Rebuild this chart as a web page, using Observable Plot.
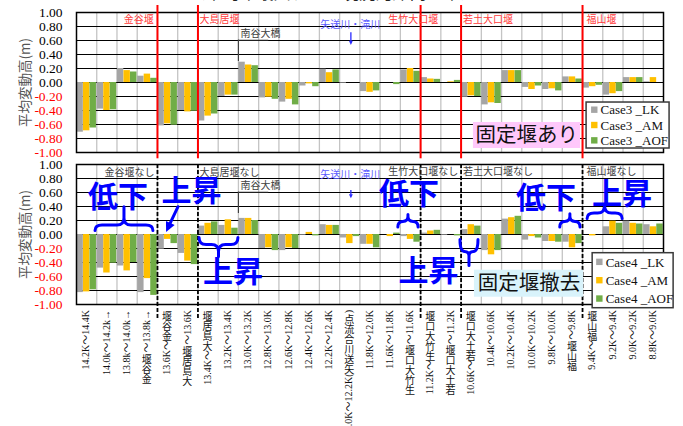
<!DOCTYPE html>
<html>
<head>
<meta charset="utf-8">
<script src="https://cdn.jsdelivr.net/npm/d3@7"></script>
<script src="https://cdn.jsdelivr.net/npm/@observablehq/plot@0.6"></script>
<style>
  body { margin: 0; background: #fff; }
  #chart { position: relative; width: 683px; height: 426px; overflow: hidden; }
  #chart svg { display: block; overflow: visible; }
</style>
</head>
<body>
<div id="chart"></div>
<script>
// Reaches, upstream to downstream
const categories = [
  "14.2K～14.4K", "14.0k～14.2k→", "13.8k～14.0k→", "金谷堰～13.8k→", "13.6K～金谷堰",
  "大島居堰～13.6K", "13.4K～大島居堰", "13.2K～13.4K", "13.0K～13.2K", "12.8K～13.0K",
  "12.6K～12.8K", "12.4K～12.6K", "12.2K～12.4K", "12.0K～12.2K(矢送川合流点)", "11.8K～12.0K",
  "11.6K～11.8K", "生竹大口堰～11.6K", "11.2K～生竹大口堰", "若土大口堰～11.2K", "10.6K～若土大口堰",
  "10.4k～10.6K", "10.2K～10.4K", "10.0K～10.2K", "9.8K～10.0K", "福山堰～9.8K",
  "9.4K～福山堰", "9.2K～9.4K", "9.0K～9.2K", "8.8K～9.0K"
];

// Case3: fixed weirs in place
const case3LK  = [-0.71, -0.38, 0.20, 0.09, -0.62, -0.40, -0.55, -0.20, 0.29, -0.22, -0.28, -0.05, 0.19, -0.01, -0.13, 0.00, 0.18, 0.07, 0.00, -0.21, -0.32, 0.17, -0.07, -0.10, 0.08, -0.08, -0.18, 0.07, 0.01];
const case3AM  = [-0.69, -0.40, 0.17, 0.12, -0.59, -0.42, -0.48, -0.18, 0.25, -0.21, -0.24, -0.02, 0.14, 0.00, -0.14, 0.00, 0.20, 0.05, 0.01, -0.19, -0.29, 0.17, -0.10, -0.09, 0.08, -0.06, -0.16, 0.07, 0.07];
const case3AOF = [-0.65, -0.39, 0.15, 0.06, -0.61, -0.41, -0.45, -0.18, 0.24, -0.24, -0.32, -0.06, 0.18, 0.00, -0.12, -0.03, 0.16, 0.045, 0.03, -0.20, -0.30, 0.17, -0.05, -0.12, 0.05, -0.04, -0.13, 0.07, 0.00];

// Case4: fixed weirs removed
const case4LK  = [-0.83, -0.48, -0.45, -0.83, -0.21, -0.27, 0.12, 0.13, 0.23, -0.20, -0.23, -0.01, 0.14, -0.05, -0.14, 0.00, -0.03, 0.02, -0.01, 0.07, -0.23, 0.22, -0.08, -0.10, -0.11, 0.00, 0.11, 0.19, 0.14];
const case4AM  = [-0.82, -0.55, -0.52, -0.63, -0.07, -0.38, 0.16, 0.21, 0.23, -0.19, -0.19, 0.03, 0.13, -0.13, -0.14, -0.03, -0.07, 0.05, 0.00, 0.14, -0.29, 0.24, -0.03, -0.10, -0.19, -0.02, 0.19, 0.16, 0.11];
const case4AOF = [-0.79, -0.41, -0.40, -0.87, -0.13, -0.43, 0.18, 0.09, 0.20, -0.23, -0.20, -0.02, 0.13, -0.03, -0.19, 0.02, -0.11, 0.06, -0.02, 0.12, -0.23, 0.26, -0.05, -0.11, -0.13, 0.00, 0.16, 0.15, 0.15];

const yTickValues = [1.0, 0.8, 0.6, 0.4, 0.2, 0.0, -0.2, -0.4, -0.6, -0.8, -1.0];
const weirs = ["金谷堰", "大島居堰", "生竹大口堰", "若土大口堰", "福山堰"];
const seriesSuffix = ["_LK", "_AM", "_AOF"];
const seriesColors = ["#a5a5a5", "#ffc000", "#70ad47"];
const yTitle = "平均変動高(m)";
const chartTitle = "（平均年最大流量・現況河床高基準）";

// each weir sits on the boundary after the reach that starts at it
const weirBounds = weirs.map(w => categories.findIndex(c => c.startsWith(w)) + 1);

const RED = "#ff3b3b";
const BLUE = "#0000ff";
const SERIF = "'Liberation Serif', 'Noto Sans CJK JP', serif";
const SANS = "'Noto Sans CJK JP', sans-serif";

function note(text, x, y, opts = {}) {
  return Plot.text([text], {x: () => x, y: () => y, text: d => d, fontSize: 10, ...opts});
}

function bars(series) {
  const w = 0.318;
  return series.map((vals, k) => Plot.rectY(vals, {
    x1: (d, i) => i + 0.02 + k * (w + 0.006),
    x2: (d, i) => i + 0.02 + k * (w + 0.006) + w,
    y1: () => 0,
    y2: d => d,
    fill: seriesColors[k]
  }));
}

function yAxes() {
  const common = {tickSize: 0, tickPadding: 14, tickFormat: d => d.toFixed(2), fontSize: 13.5, fontFamily: SERIF, label: null};
  return [
    Plot.axisY({...common, ticks: yTickValues.filter(v => v >= 0), color: "#000"}),
    Plot.axisY({...common, ticks: yTickValues.filter(v => v < 0), color: "#ff0000"}),
    Plot.text([yTitle], {frameAnchor: "left", textAnchor: "middle", dx: -51, rotate: -90, fontSize: 13.5, fill: "#555", fontFamily: SANS})
  ];
}

function legendMark(prefix, box) {
  return (index, {x, y}) => {
    const g = d3.create("svg:g").attr("text-anchor", "start");
    const x0 = x(box.x1), x1 = x(box.x2), y0 = y(box.y1), y1 = y(box.y2);
    g.append("rect").attr("x", x0).attr("y", y0).attr("width", x1 - x0).attr("height", y1 - y0)
      .attr("fill", "#fff").attr("stroke", "#3a3a3a").attr("stroke-width", 1.5);
    const rowH = (y1 - y0) / 3;
    seriesSuffix.forEach((s, k) => {
      const cy = y0 + rowH * (k + 0.5);
      g.append("rect").attr("x", x0 + box.pad).attr("y", cy - 3.2).attr("width", 6.4).attr("height", 6.4).attr("fill", seriesColors[k]);
      g.append("text").attr("x", x0 + box.pad + 9.5).attr("y", cy).attr("dy", "0.36em")
        .attr("font-family", SERIF).attr("font-size", 13).attr("fill", "#111").text(`${prefix} ${s}`);
    });
    return g.node();
  };
}

// brace: ends at yEnd, flat along yBase, middle point at yTip
function bracePath(x1, x2, yEnd, yBase, yTip) {
  const xm = (x1 + x2) / 2;
  const r = Math.min((x2 - x1) / 4, 7);
  const s = Math.sign(yTip - yBase);
  const stem = yBase + s * Math.min(r, Math.abs(yTip - yBase));
  return `M${x1},${yEnd}Q${x1},${yBase} ${x1 + r},${yBase}L${xm - r},${yBase}Q${xm},${yBase} ${xm},${stem}L${xm},${yTip}` +
         `M${xm},${stem}Q${xm},${yBase} ${xm + r},${yBase}L${x2 - r},${yBase}Q${x2},${yBase} ${x2},${yEnd}`;
}

function arrowShape(g, xa, ya, xb, yb, color, width, head) {
  const a = Math.atan2(yb - ya, xb - xa);
  const bx = xb - Math.cos(a) * head * 0.8, by = yb - Math.sin(a) * head * 0.8;
  g.append("line").attr("x1", xa).attr("y1", ya).attr("x2", bx).attr("y2", by)
    .attr("stroke", color).attr("stroke-width", width);
  const p = (ang, len) => [xb - Math.cos(a + ang) * len, yb - Math.sin(a + ang) * len];
  const [l, rr] = [p(0.45, head), p(-0.45, head)];
  g.append("path").attr("d", `M${xb},${yb}L${l[0]},${l[1]}L${rr[0]},${rr[1]}Z`).attr("fill", color).attr("stroke", "none");
}

function bridgeMarks() {
  return [
    Plot.ruleX([8], {y1: () => 0.30, y2: () => 0.605, stroke: "#404040", strokeWidth: 1.2}),
    Plot.ruleY([0.605], {x1: () => 8, x2: () => 9.5, stroke: "#404040", strokeWidth: 0.8}),
    note("南谷大橋", 8.1, 0.70, {textAnchor: "start", fill: "#404040"})
  ];
}

function riverArrow(yText, yFrom, yTo) {
  return [
    note("矢送川・滝川", 13.52, yText, {fill: "#5a5aff"}),
    (index, {x, y}) => {
      const g = d3.create("svg:g");
      arrowShape(g, x(13.58), y(yFrom), x(13.58), y(yTo), "#2a2aff", 1.3, 4.5);
      return g.node();
    }
  ];
}

const baseStyle = {background: "transparent", overflow: "visible", fontFamily: SANS, fontSize: "10px"};

// category labels: Latin text runs upward, kanji stand upright
const cjk = /[\u3040-\u30ff\u3400-\u9fff]/;
function categoryAxis(index, {x, y}) {
  const g = d3.create("svg:g").attr("font-family", SERIF).attr("font-size", 10).attr("fill", "#111");
  categories.forEach((c, i) => {
    const t = g.append("text")
      .attr("transform", `translate(${x(i + 0.5)},${y(-1) + 6}) rotate(-90)`)
      .attr("text-anchor", "end").attr("y", "0.32em");
    const runs = [];
    for (const ch of c) {
      const u = cjk.test(ch);
      if (runs.length && runs[runs.length - 1].u === u) runs[runs.length - 1].s += ch;
      else runs.push({u, s: ch});
    }
    let cur = 0;
    for (const r of runs) {
      const target = r.u ? -0.82 : 0;
      const ts = t.append("tspan").text(r.s);
      if (target !== cur) ts.attr("dy", `${(target - cur).toFixed(2)}em`);
      if (r.u) ts.attr("rotate", 90);
      cur = target;
    }
  });
  return g.node();
}

const N = categories.length;

const upperPanel = Plot.plot({
  width: 683, height: 158,
  marginLeft: 76, marginRight: 20, marginTop: 12, marginBottom: 6,
  x: {type: "linear", domain: [0, N], axis: null},
  y: {domain: [-1, 1], axis: null},
  style: baseStyle,
  marks: [
    Plot.text([chartTitle], {frameAnchor: "top", dy: -14, dx: -37, lineAnchor: "bottom", fontSize: 17, fill: "#222"}),
    Plot.ruleX(d3.range(1, N), {stroke: "#c4c4c4", strokeWidth: 1.3}),
    Plot.ruleY(yTickValues, {stroke: "#000", strokeWidth: 1}),
    ...bars([case3LK, case3AM, case3AOF]),
    Plot.frame({stroke: "#000", strokeWidth: 1.5}),
    ...yAxes(),
    Plot.ruleX(weirBounds, {y1: () => -1.09, y2: () => 1.1, stroke: "#ff0000", strokeWidth: 2}),
    note("金谷堰", 3.82, 0.9, {textAnchor: "end", fill: RED}),
    note("大島居堰", 6.08, 0.9, {textAnchor: "start", fill: RED}),
    note("生竹大口堰", 15.4, 0.9, {textAnchor: "start", fill: RED}),
    note("若土大口堰", 19.1, 0.9, {textAnchor: "start", fill: RED}),
    note("福山堰", 25.2, 0.9, {textAnchor: "start", fill: RED}),
    ...bridgeMarks(),
    ...riverArrow(0.82, 0.71, 0.53),
    Plot.rect([0], {x1: () => 19.61, x2: () => 24.9, y1: () => -0.571, y2: () => -0.943, fill: "#ffc8fb"}),
    note("固定堰あり", 22.25, -0.757, {fontSize: 20.5, fill: "#111"}),
    legendMark("Case3", {x1: 25.2, x2: 29.3, y1: -0.286, y2: -0.943, pad: 5})
  ]
});

const lowerPanel = Plot.plot({
  width: 683, height: 268,
  marginLeft: 76, marginRight: 20, marginTop: 6, marginBottom: 122,
  x: {type: "linear", domain: [0, N], axis: null},
  y: {domain: [-1, 1], axis: null},
  style: baseStyle,
  marks: [
    Plot.ruleX(d3.range(1, N), {stroke: "#c4c4c4", strokeWidth: 1.3}),
    Plot.ruleY(yTickValues, {stroke: "#000", strokeWidth: 1}),
    ...bars([case4LK, case4AM, case4AOF]),
    Plot.frame({stroke: "#000", strokeWidth: 1.5}),
    ...yAxes(),
    categoryAxis,
    Plot.ruleX(weirBounds, {y1: () => -1.2, y2: () => 1, stroke: "#000", strokeWidth: 1.8, strokeDasharray: "4,2"}),
    note("金谷堰なし", 3.85, 0.88, {textAnchor: "end", fill: "#404040"}),
    note("大島居堰なし", 6.08, 0.88, {textAnchor: "start", fill: "#404040"}),
    note("生竹大口堰なし", 15.4, 0.89, {textAnchor: "start", fill: "#404040"}),
    note("若土大口堰なし", 19.1, 0.89, {textAnchor: "start", fill: "#404040"}),
    note("福山堰なし", 25.2, 0.89, {textAnchor: "start", fill: "#404040"}),
    ...bridgeMarks(),
    ...riverArrow(0.85, 0.63, 0.51),
    Plot.rect([0], {x1: () => 19.66, x2: () => 25.05, y1: () => -0.51, y2: () => -0.896, fill: "#d9f3fb"}),
    note("固定堰撤去", 22.36, -0.705, {fontSize: 20.5, fill: "#111"}),
    legendMark("Case4", {x1: 25.5, x2: 29.5, y1: -0.267, y2: -1.053, pad: 4}),
    // trend annotations
    note("低下", 2.05, 0.53, {fontSize: 30, fontWeight: "bold", fill: BLUE}),
    note("上昇", 5.68, 0.61, {fontSize: 30, fontWeight: "bold", fill: BLUE}),
    note("上昇", 7.73, -0.54, {fontSize: 30, fontWeight: "bold", fill: BLUE}),
    note("低下", 16.43, 0.57, {fontSize: 30, fontWeight: "bold", fill: BLUE}),
    note("上昇", 17.39, -0.52, {fontSize: 30, fontWeight: "bold", fill: BLUE}),
    note("低下", 23.2, 0.52, {fontSize: 30, fontWeight: "bold", fill: BLUE}),
    note("上昇", 26.95, 0.57, {fontSize: 30, fontWeight: "bold", fill: BLUE}),
    (index, {x, y}) => {
      const g = d3.create("svg:g").attr("fill", "none").attr("stroke", BLUE).attr("stroke-width", 3)
        .attr("stroke-linecap", "round").attr("stroke-linejoin", "round");
      const braces = [
        {x1: 0.94, x2: 3.80, end: 0.05, base: 0.13, tip: 0.39},
        {x1: 6.08, x2: 8.00, end: -0.05, base: -0.15, tip: -0.32},
        {x1: 15.9, x2: 16.9, end: 0.10, base: 0.18, tip: 0.28},
        {x1: 18.97, x2: 19.86, end: -0.08, base: -0.25, tip: -0.45},
        {x1: 23.9, x2: 24.9, end: 0.10, base: 0.18, tip: 0.29},
        {x1: 25.25, x2: 26.98, end: 0.22, base: 0.30, tip: 0.42}
      ];
      for (const b of braces) g.append("path").attr("d", bracePath(x(b.x1), x(b.x2), y(b.end), y(b.base), y(b.tip)));
      arrowShape(g, x(5.04), y(0.39), x(4.45), y(0.03), BLUE, 3, 11);
      return g.node();
    }
  ]
});

document.getElementById("chart").append(upperPanel, lowerPanel);
</script>
</body>
</html>
